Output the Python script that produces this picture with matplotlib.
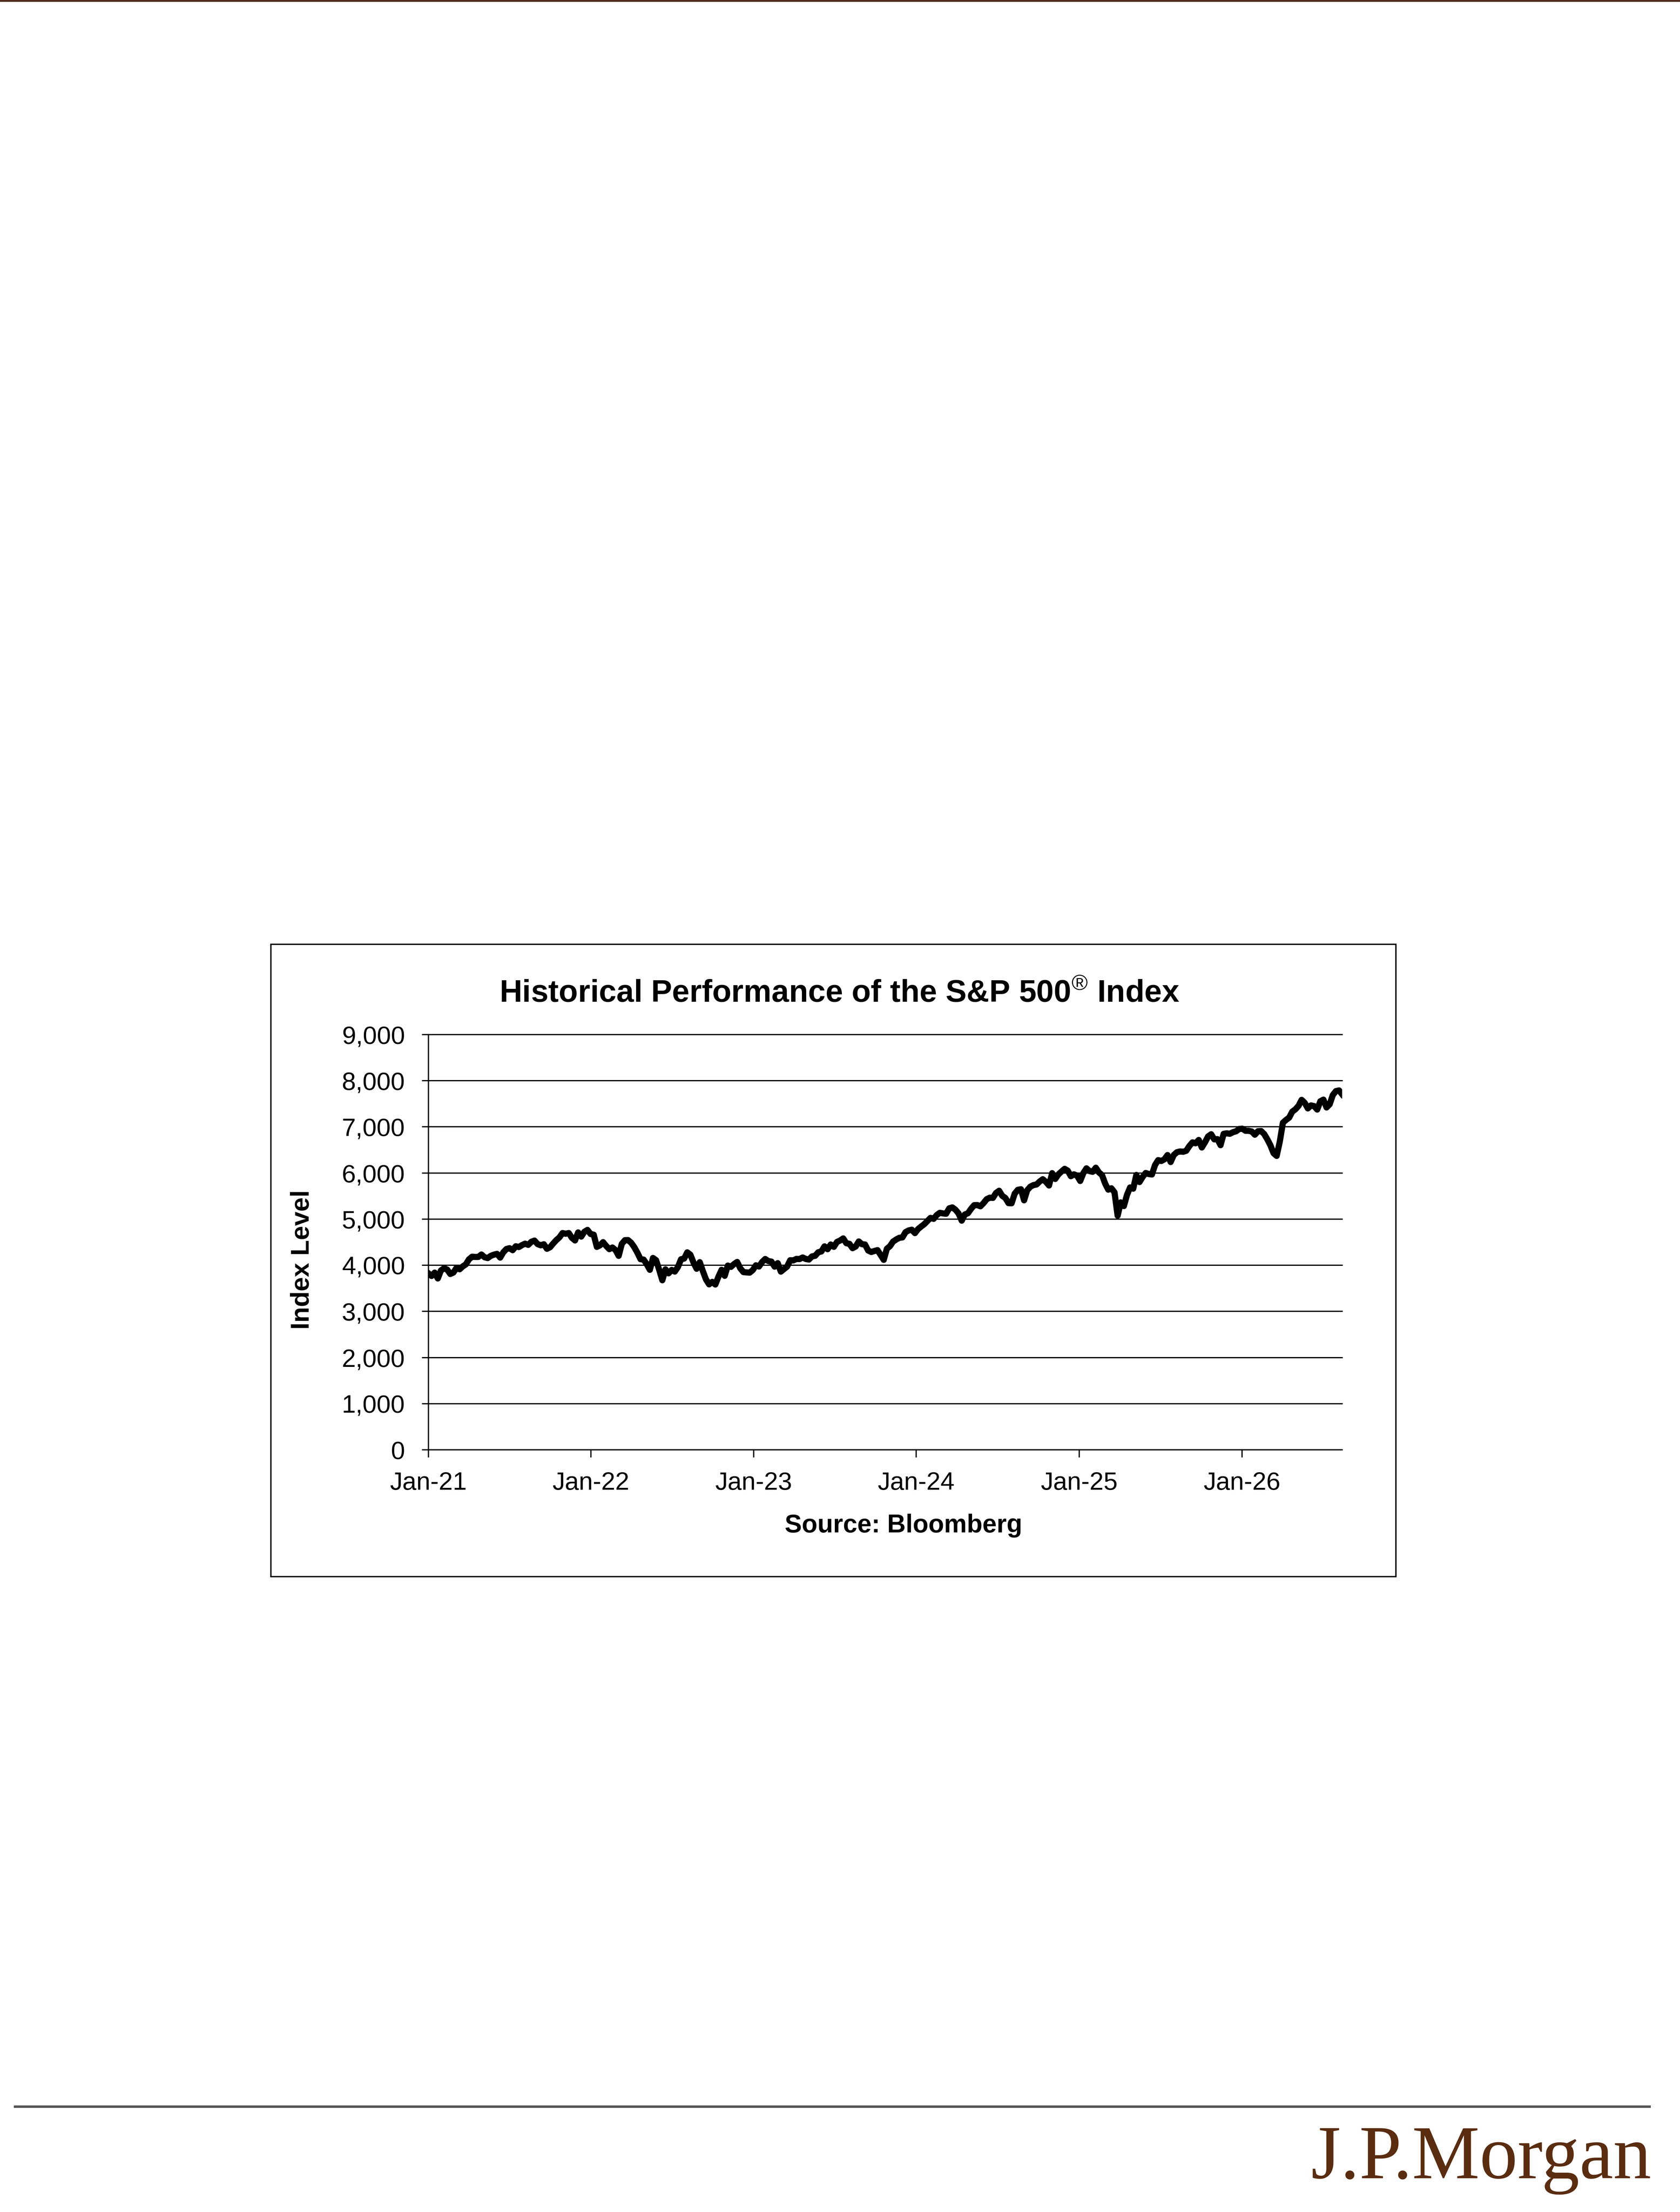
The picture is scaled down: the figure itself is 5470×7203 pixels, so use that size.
import matplotlib
matplotlib.use("Agg")
import matplotlib.pyplot as plt
import pandas as pd
from matplotlib.patches import Rectangle
from matplotlib.ticker import FuncFormatter

plt.rcParams['font.family'] = ['Liberation Sans', 'DejaVu Sans']
plt.rcParams['mathtext.fontset'] = 'custom'
plt.rcParams['mathtext.rm'] = 'Liberation Sans'
plt.rcParams['mathtext.bf'] = 'Liberation Sans:bold'

# weekly (Friday) closes of the index
start_date = "2021-01-08"
spx_2021 = [3825, 3768, 3841, 3714, 3887, 3935, 3907, 3811, 3842, 3943, 3913, 3975, 4020,
            4129, 4185, 4180, 4181, 4233, 4174, 4156, 4204, 4230, 4247, 4166, 4281, 4352,
            4370, 4327, 4412, 4395, 4437, 4468, 4442, 4509, 4535, 4459, 4433, 4455, 4357,
            4391, 4471, 4545, 4605, 4698, 4683, 4698, 4595, 4538, 4712, 4621, 4726, 4766]
spx_2022 = [4677, 4663, 4398, 4432, 4501, 4419, 4349, 4385, 4329, 4204, 4463, 4543, 4546,
            4488, 4393, 4272, 4132, 4123, 4024, 3901, 4158, 4109, 3901, 3675, 3912, 3825,
            3899, 3863, 3962, 4130, 4145, 4280, 4228, 4058, 3924, 4067, 3873, 3693, 3586,
            3640, 3583, 3753, 3901, 3771, 3993, 3965, 4026, 4072, 3934, 3852, 3845, 3840]
spx_2023 = [3895, 3999, 3973, 4071, 4136, 4090, 4079, 3970, 4046, 3862, 3917, 3971, 4109,
            4105, 4138, 4134, 4169, 4136, 4124, 4192, 4205, 4282, 4299, 4410, 4348, 4450,
            4399, 4505, 4536, 4582, 4478, 4464, 4370, 4406, 4516, 4457, 4450, 4320, 4288,
            4309, 4328, 4224, 4117, 4358, 4415, 4514, 4559, 4595, 4604, 4719, 4755, 4770]
spx_2024 = [4697, 4784, 4840, 4891, 4959, 5027, 5006, 5089, 5137, 5124, 5117, 5234, 5254,
            5204, 5123, 4967, 5100, 5128, 5223, 5303, 5305, 5278, 5347, 5432, 5465, 5460,
            5567, 5615, 5505, 5459, 5347, 5344, 5554, 5635, 5648, 5408, 5626, 5703, 5738,
            5751, 5815, 5865, 5808, 5729, 5996, 5871, 5969, 6032, 6090, 6051, 5931, 5971]
spx_2025 = [5942, 5827, 5997, 6101, 6041, 6026, 6115, 6013, 5955, 5770, 5639, 5668, 5581,
            5074, 5363, 5283, 5525, 5687, 5660, 5958, 5803, 5912, 6000, 5977, 5968, 6173,
            6279, 6260, 6297, 6389, 6238, 6389, 6450, 6467, 6460, 6482, 6584, 6664, 6644,
            6716, 6553, 6664, 6792, 6840, 6729, 6734, 6603, 6849, 6860, 6850, 6885, 6905]
spx_2026 = [6955, 6960, 6915, 6915, 6900, 6830, 6905, 6910, 6845, 6730, 6600, 6430, 6370,
            6680, 7090, 7150, 7200, 7330, 7380, 7455, 7585, 7520, 7400, 7465, 7450, 7375,
            7555, 7590, 7420, 7490, 7690, 7775, 7790, 7705]

x_labels = ["Jan-21", "Jan-22", "Jan-23", "Jan-24", "Jan-25", "Jan-26"]
y_ticks = [0, 1000, 2000, 3000, 4000, 5000, 6000, 7000, 8000, 9000]

title = "Historical Performance of the S&P 500$^{\\mathrm{\u00ae}}$ Index"
y_title = "Index Level"
source = "Source: Bloomberg"

values = spx_2021 + spx_2022 + spx_2023 + spx_2024 + spx_2025 + spx_2026
dates = pd.date_range(start_date, periods=len(values), freq="7D")
x_ticks = [pd.Timestamp(start_date) + pd.DateOffset(years=k) for k in range(len(x_labels))]

W, H = 5470, 7203
fig = plt.figure(figsize=(W / 100, H / 100), dpi=100)

# page decorations
fig.add_artist(Rectangle((0, 1 - 6 / H), 1, 6 / H, transform=fig.transFigure,
                         color="#4b2c17", lw=0))
fig.add_artist(Rectangle((45 / W, 1 - 6864 / H), 5330 / W, 8 / H,
                         transform=fig.transFigure, color="#555555", lw=0))
fig.text(5377 / W, 1 - 7092 / H, "J.P.Morgan", ha="right", va="baseline",
         fontsize=178, family="Liberation Serif", color="#5a2c10")

# chart frame
fig.add_artist(Rectangle((882 / W, 1 - 5134 / H), 3663 / W, 2059 / H,
                         transform=fig.transFigure, fill=False, lw=3.2, ec="black"))

ax = fig.add_axes([1395 / W, 1 - 4721 / H, 2975 / W, 1352 / H])
ax.plot(dates, values, color="black", lw=14.5, solid_joinstyle="round", zorder=3)
ax.set_xlim(dates[0], dates[-1])
ax.set_ylim(0, 9000)

ax.set_yticks(y_ticks)
ax.yaxis.set_major_formatter(FuncFormatter(lambda v, p: f"{int(v):,}"))
ax.set_xticks(x_ticks)
ax.set_xticklabels(x_labels)

ax.yaxis.grid(True, color="black", lw=2.9)
for gl in ax.get_ygridlines():
    gl.set_clip_on(False)
ax.set_axisbelow(True)

for s in ["top", "right"]:
    ax.spines[s].set_visible(False)
for s in ["left", "bottom"]:
    ax.spines[s].set_linewidth(2.9)
    ax.spines[s].set_color("black")

ax.tick_params(axis="y", length=15, width=2.9, pad=40, labelsize=59)
ax.tick_params(axis="x", length=18, width=2.9, pad=33, labelsize=59)

fig.text(2733 / W, 1 - 3236 / H, title, ha="center", va="center",
         fontsize=73.5, weight="bold")
fig.text(984 / W, 1 - 4102 / H, y_title, rotation=90, ha="center", va="center",
         fontsize=60, weight="bold")
fig.text(2942 / W, 1 - 4968 / H, source, ha="center", va="center",
         fontsize=60, weight="bold")

fig.savefig("out.png", dpi=100)
